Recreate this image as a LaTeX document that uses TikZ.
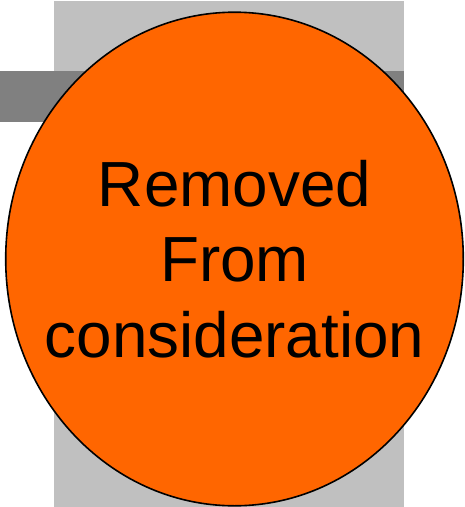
\documentclass[tikz,border=0pt]{standalone}
\usepackage{fontspec}
\setmainfont{Liberation Sans}
\usetikzlibrary{shapes.geometric}
\definecolor{lightbox}{HTML}{C0C0C0}
\definecolor{darkbox}{HTML}{808080}
\definecolor{orangefill}{HTML}{FF6600}
\tikzset{
  bigoval/.style={ellipse, draw=black, line width=1.6pt, fill=orangefill,
    minimum width=457.6pt, minimum height=493.6pt, inner sep=0pt},
  ovaltext/.style={align=center, inner sep=0pt, font=\fontsize{63.8}{75.5}\selectfont},
}
\begin{document}
\begin{tikzpicture}[x=1pt,y=-1pt]
\useasboundingbox (0,0) rectangle (465,507);
\fill[lightbox] (54,1) rectangle (404,507);
\fill[darkbox] (0,71) rectangle (404,121.7);
\node[bigoval] (c) at (234.5,259) {};
\node[ovaltext] (t) at (c.center) {Removed\\From\\consideration};
\end{tikzpicture}
\end{document}
